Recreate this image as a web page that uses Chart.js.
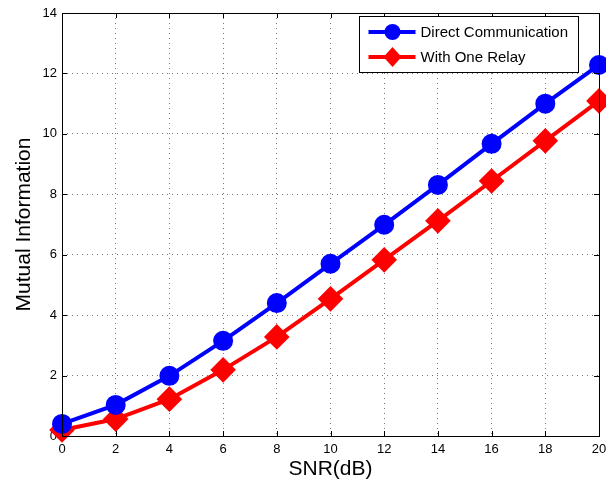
<!DOCTYPE html>
<html>
<head>
<meta charset="utf-8">
<script src="https://cdn.jsdelivr.net/npm/chart.js@4"></script>
<style>
  html, body { margin: 0; padding: 0; background: #fff; }
  #wrap { width: 606px; height: 486px; }
</style>
</head>
<body>
<div id="wrap"><canvas id="myChart1"></canvas></div>
<script>
// data
const snr = [0, 2, 4, 6, 8, 10, 12, 14, 16, 18, 20];
const direct = [0.40, 1.03, 1.99, 3.15, 4.40, 5.70, 6.99, 8.31, 9.67, 11.00, 12.28];
const oneRelay = [0.20, 0.56, 1.22, 2.19, 3.28, 4.54, 5.83, 7.12, 8.44, 9.77, 11.09];
const seriesNames = ['Direct Communication', 'With One Relay'];

const FONT = 'Liberation Sans, Arial, sans-serif';

const toPoints = (ys) => snr.map((x, i) => ({ x: x, y: ys[i] }));

// box around the plot, inward ticks, and the boxed legend
const matlabLook = {
  id: 'matlabLook',
  afterDatasetsDraw(chart) {
    const { ctx, chartArea: a, scales } = chart;
    ctx.save();
    ctx.strokeStyle = '#000';
    ctx.lineWidth = 1;
    ctx.beginPath();
    scales.x.ticks.forEach(t => {
      const px = Math.round(scales.x.getPixelForValue(t.value)) + 0.5;
      ctx.moveTo(px, a.bottom); ctx.lineTo(px, a.bottom - 5);
      ctx.moveTo(px, a.top); ctx.lineTo(px, a.top + 5);
    });
    scales.y.ticks.forEach(t => {
      const py = Math.round(scales.y.getPixelForValue(t.value)) + 0.5;
      ctx.moveTo(a.left, py); ctx.lineTo(a.left + 5, py);
      ctx.moveTo(a.right, py); ctx.lineTo(a.right - 5, py);
    });
    ctx.stroke();
    ctx.strokeRect(Math.round(a.left) + 0.5, Math.round(a.top) + 0.5,
      Math.round(a.right - a.left), Math.round(a.bottom - a.top));

    // legend
    const lx = 359.5, ly = 16.5, lw = 219, lh = 56;
    ctx.fillStyle = '#fff';
    ctx.fillRect(lx, ly, lw, lh);
    ctx.strokeRect(lx, ly, lw, lh);
    ctx.font = '15px ' + FONT;
    ctx.textBaseline = 'middle';
    chart.data.datasets.forEach((ds, i) => {
      const cy = ly + 15.5 + i * 25;
      ctx.strokeStyle = ds.borderColor;
      ctx.lineWidth = 4;
      ctx.beginPath();
      ctx.moveTo(lx + 9, cy); ctx.lineTo(lx + 56, cy);
      ctx.stroke();
      ctx.fillStyle = ds.borderColor;
      ctx.beginPath();
      if (ds.pointStyle === 'rectRot') {
        ctx.moveTo(lx + 33, cy - 10); ctx.lineTo(lx + 42, cy);
        ctx.lineTo(lx + 33, cy + 10); ctx.lineTo(lx + 24, cy);
      } else {
        ctx.arc(lx + 33, cy, 8, 0, Math.PI * 2);
      }
      ctx.fill();
      ctx.fillStyle = '#000';
      ctx.fillText(ds.label, lx + 61, cy + 1);
    });
    ctx.restore();
  }
};

const data = {
  datasets: [{
    label: seriesNames[0],
    data: toPoints(direct),
    borderColor: '#0000ff',
    backgroundColor: '#0000ff',
    borderWidth: 4,
    pointStyle: 'circle',
    pointRadius: 8,
    pointHoverRadius: 8,
    clip: false
  }, {
    label: seriesNames[1],
    data: toPoints(oneRelay),
    borderColor: '#ff0000',
    backgroundColor: '#ff0000',
    borderWidth: 4,
    pointStyle: 'rectRot',
    pointRadius: 10,
    pointHoverRadius: 10,
    clip: false
  }]
};

const gridLook = {
  color: '#777',
  lineWidth: 1,
  drawTicks: false
};

const config = {
  type: 'line',
  data: data,
  options: {
    responsive: false,
    animation: false,
    events: [],
    layout: { autoPadding: false, padding: { top: 13, right: 7, left: 0, bottom: 0 } },
    plugins: { legend: { display: false }, tooltip: { enabled: false } },
    scales: {
      x: {
        type: 'linear',
        min: 0, max: 20,
        ticks: { stepSize: 2, color: '#000', padding: 6, maxRotation: 0,
                 font: { family: FONT, size: 13 } },
        grid: gridLook,
        border: { display: false, dash: [1, 4] },
        title: { display: true, text: 'SNR(dB)', color: '#000',
                 font: { family: FONT, size: 21 }, padding: { top: 0 } },
        afterFit(s) { s.height = 50; s.paddingLeft = 0; s.paddingRight = 0; }
      },
      y: {
        min: 0, max: 14,
        ticks: { stepSize: 2, color: '#000', padding: 5,
                 font: { family: FONT, size: 13 } },
        grid: gridLook,
        border: { display: false, dash: [1, 4] },
        title: { display: true, text: 'Mutual Information', color: '#000',
                 font: { family: FONT, size: 21 }, padding: { top: 12, bottom: 4 } },
        afterFit(s) { s.width = 62; s.paddingTop = 0; s.paddingBottom = 0; }
      }
    }
  },
  plugins: [matlabLook]
};

const canvas = document.getElementById('myChart1');
canvas.width = 606;
canvas.height = 486;
const myChart1 = new Chart(canvas, config);
</script>
</body>
</html>
